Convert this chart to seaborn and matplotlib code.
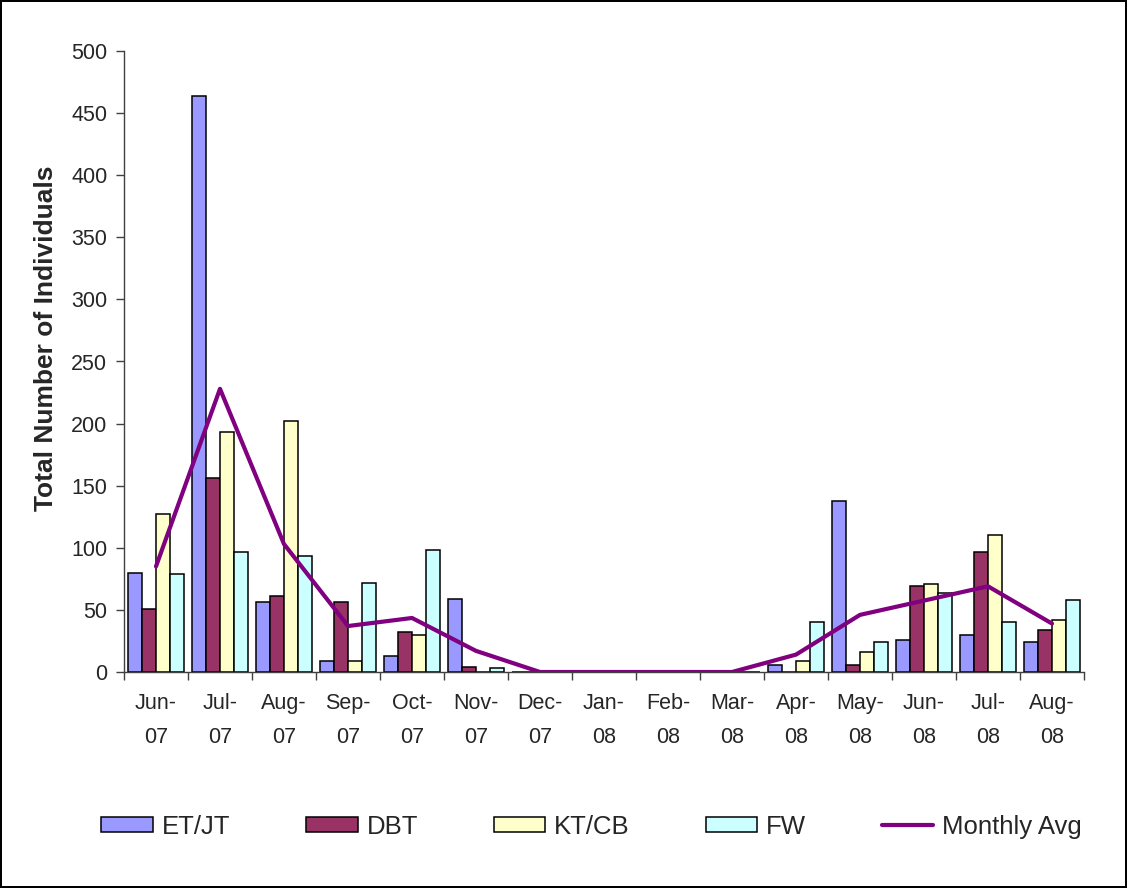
import numpy as np
import pandas as pd
import matplotlib
matplotlib.use("Agg")
import matplotlib.pyplot as plt
from matplotlib.patches import Patch
from matplotlib.lines import Line2D
import seaborn as sns

months = ["Jun-\n07", "Jul-\n07", "Aug-\n07", "Sep-\n07", "Oct-\n07", "Nov-\n07", "Dec-\n07",
          "Jan-\n08", "Feb-\n08", "Mar-\n08", "Apr-\n08", "May-\n08", "Jun-\n08", "Jul-\n08", "Aug-\n08"]
et_jt = [80, 464, 56, 9, 13, 59, 0, 0, 0, 0, 6, 138, 26, 30, 24]
dbt = [51, 156, 61, 56, 32, 4, 0, 0, 0, 0, 0, 6, 69, 97, 34]
kt_cb = [127, 193, 202, 9, 30, 0, 0, 0, 0, 0, 9, 16, 71, 110, 42]
fw = [79, 97, 93, 72, 98, 3, 0, 0, 0, 0, 40, 24, 64, 40, 58]
monthly_avg = [85, 228, 103, 37, 43.5, 17, 0, 0, 0, 0, 14, 46, 57.5, 69, 39]

series_names = ["ET/JT", "DBT", "KT/CB", "FW"]
colors = ["#9999FF", "#993366", "#FFFFCC", "#CCFFFF"]
avg_color = "#800080"

sns.set_theme(style="white")
plt.rcParams["font.family"] = ["Liberation Sans", "DejaVu Sans"]

rows = []
for name, vals in zip(series_names, [et_jt, dbt, kt_cb, fw]):
    for m, v in zip(months, vals):
        rows.append({"month": m, "series": name, "value": v})
df = pd.DataFrame(rows)

fig = plt.figure(figsize=(11.27, 8.88), dpi=100)
fig.patch.set_facecolor("white")
fig.patch.set_edgecolor("black")
fig.patch.set_linewidth(1.5)

ax = fig.add_axes([124 / 1127, (888 - 672) / 888, (1084 - 124) / 1127, (672 - 51) / 888])

sns.barplot(data=df, x="month", y="value", hue="series", order=months,
            hue_order=series_names, palette=colors, width=0.875,
            edgecolor="black", linewidth=1.1, legend=False, ax=ax, saturation=1)

sns.lineplot(x=np.arange(len(months)), y=monthly_avg, color=avg_color,
             linewidth=3, ax=ax, legend=False)

ax.set_xlim(-0.5, len(months) - 0.5)
ax.set_ylim(0, 500)
ax.set_yticks(np.arange(0, 501, 50))
ax.tick_params(axis="y", which="major", direction="out", length=6, width=1,
               color="#404040", labelsize=15.5, pad=6, left=True)

ax.set_xticks(np.arange(-0.5, len(months)), labels=[""] * (len(months) + 1))
ax.set_xticks(np.arange(len(months)), labels=months, minor=True)
ax.tick_params(axis="x", which="major", direction="out", length=6, width=1,
               color="#404040", bottom=True)
ax.tick_params(axis="x", which="minor", length=0, labelsize=15.5, pad=15)
for lab in ax.get_xticklabels(minor=True):
    lab.set_linespacing(1.85)

for side in ["top", "right"]:
    ax.spines[side].set_visible(False)
for side in ["left", "bottom"]:
    ax.spines[side].set_color("#404040")
    ax.spines[side].set_linewidth(1)

ax.set_xlabel("")
ax.set_ylabel("Total Number of Individuals", fontsize=19, fontweight="bold")
ax.yaxis.set_label_coords(-0.0685, 0.538)
ax.grid(False)

handles = [Patch(facecolor=c, edgecolor="black", linewidth=1.1) for c in colors]
handles.append(Line2D([0], [0], color=avg_color, linewidth=3))
labels = series_names + ["Monthly Avg"]
fig.legend(handles, labels, loc="center", bbox_to_anchor=(0.525, 0.069), ncol=5,
           frameon=False, fontsize=18.5, handlelength=2.0, handleheight=0.55,
           handletextpad=0.35, columnspacing=2.95)

fig.savefig("out.png", dpi=100, facecolor=fig.get_facecolor(), edgecolor=fig.get_edgecolor())
